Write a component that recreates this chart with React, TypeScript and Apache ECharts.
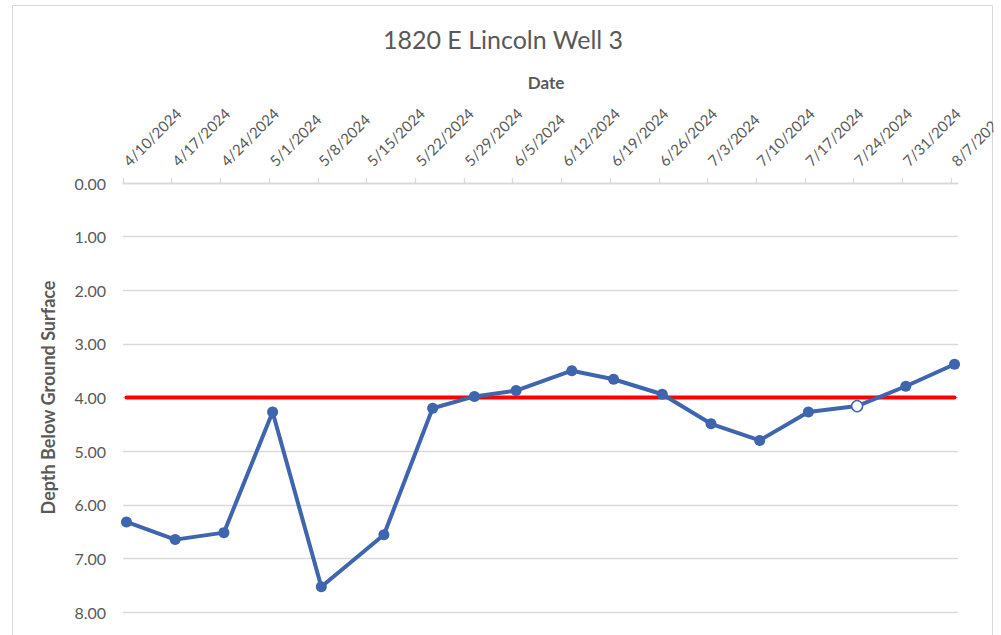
import React, { useEffect, useRef } from "react";
import * as echarts from "echarts";

const TITLE = "1820 E Lincoln Well 3";
const X_NAME = "Date";
const Y_NAME = "Depth Below Ground Surface";

const AXIS_START = "2024-04-10";
const AXIS_END = "2024-08-08";

const TICK_DATES = [
  "2024-04-10", "2024-04-17", "2024-04-24", "2024-05-01", "2024-05-08",
  "2024-05-15", "2024-05-22", "2024-05-29", "2024-06-05", "2024-06-12",
  "2024-06-19", "2024-06-26", "2024-07-03", "2024-07-10", "2024-07-17",
  "2024-07-24", "2024-07-31", "2024-08-07",
];
const TICK_LABELS = [
  "4/10/2024", "4/17/2024", "4/24/2024", "5/1/2024", "5/8/2024",
  "5/15/2024", "5/22/2024", "5/29/2024", "6/5/2024", "6/12/2024",
  "6/19/2024", "6/26/2024", "7/3/2024", "7/10/2024", "7/17/2024",
  "7/24/2024", "7/31/2024", "8/7/2024",
];

const SAMPLE_DATES = [
  "2024-04-10", "2024-04-17", "2024-04-24", "2024-05-01", "2024-05-08",
  "2024-05-17", "2024-05-24", "2024-05-30", "2024-06-05", "2024-06-13",
  "2024-06-19", "2024-06-26", "2024-07-03", "2024-07-10", "2024-07-17",
  "2024-07-24", "2024-07-31", "2024-08-07",
];
const DEPTHS = [
  6.32, 6.65, 6.52, 4.27, 7.53, 6.56, 4.2, 3.98, 3.87, 3.5,
  3.66, 3.94, 4.49, 4.8, 4.27, 4.16, 3.79, 3.38,
];
const HOLLOW_DATES = ["2024-07-24"];

const THRESHOLD_DATES = ["2024-04-10", "2024-08-07"];
const THRESHOLD_VALUES = [4.0, 4.0];

const Y_MIN = 0;
const Y_MAX = 8;
const Y_INTERVAL = 1;

const DAY = 86400000;
const t0 = Date.parse(AXIS_START + "T00:00:00Z");
const dayOffset = (d: string) => (Date.parse(d + "T00:00:00Z") - t0) / DAY;
const slotCenter = (d: string) => dayOffset(d) + 0.5;

const BLUE = "#3F65AE";
const GREY_TEXT = "#595959";
const FONT = "Lato";

export default function App() {
  const ref = useRef<HTMLDivElement>(null);
  useEffect(() => {
    if (!ref.current) return;
    const chart = echarts.init(ref.current, null, { renderer: "svg" });
    const tickValues = TICK_DATES.map(dayOffset);
    const labelMap: Record<string, string> = {};
    tickValues.forEach((v, i) => (labelMap[String(v)] = TICK_LABELS[i]));

    const mainData = SAMPLE_DATES.map((d, i) => {
      const hollow = HOLLOW_DATES.includes(d);
      return {
        value: [slotCenter(d), DEPTHS[i]],
        itemStyle: hollow
          ? { color: "#ffffff", borderColor: BLUE, borderWidth: 1.5 }
          : { color: BLUE, borderColor: BLUE, borderWidth: 0 },
      };
    });

    chart.setOption({
      animation: false,
      backgroundColor: "#ffffff",
      title: {
        text: TITLE,
        left: 503,
        top: 26,
        padding: 0,
        textAlign: "center",
        textStyle: { fontFamily: FONT, fontSize: 25, fontWeight: "normal", color: GREY_TEXT },
      },
      grid: { left: 123, right: 43, top: 183, bottom: 23, containLabel: false, outerBoundsMode: "none" },
      xAxis: {
        type: "value",
        position: "top",
        min: 0,
        max: dayOffset(AXIS_END),
        name: X_NAME,
        nameLocation: "middle",
        nameGap: 92,
        nameMoveOverlap: false,
        nameTextStyle: { fontFamily: FONT, fontSize: 17, fontWeight: "bold", color: GREY_TEXT, padding: [0, 0, 0, 11] },
        axisLine: { show: true, lineStyle: { color: "#d9d9d9", width: 1.3 } },
        axisTick: { show: true, length: 5, customValues: tickValues, lineStyle: { color: "#d9d9d9", width: 1.3 } },
        axisLabel: {
          customValues: tickValues,
          rotate: 45,
          margin: 17,
          fontFamily: FONT,
          fontSize: 15,
          color: GREY_TEXT,
          padding: [0, 0, 0, 4],
          formatter: (v: number) => labelMap[String(v)] ?? "",
        },
        splitLine: { show: false },
      },
      yAxis: {
        type: "value",
        inverse: true,
        min: Y_MIN,
        max: Y_MAX,
        interval: Y_INTERVAL,
        name: Y_NAME,
        nameLocation: "middle",
        nameRotate: 90,
        nameGap: 66,
        nameMoveOverlap: false,
        nameTextStyle: { fontFamily: FONT, fontSize: 18, fontWeight: "bold", color: GREY_TEXT },
        axisLine: { show: false },
        axisTick: { show: false },
        axisLabel: {
          margin: 17,
          fontFamily: FONT,
          fontSize: 16,
          color: GREY_TEXT,
          formatter: (v: number) => v.toFixed(2),
        },
        splitLine: { show: true, lineStyle: { color: "#d9d9d9", width: 1.3 } },
      },
      series: [
        {
          type: "line",
          data: THRESHOLD_DATES.map((d, i) => [slotCenter(d), THRESHOLD_VALUES[i]]),
          symbol: "none",
          lineStyle: { color: "#ff0000", width: 4, cap: "round" },
          z: 2,
        },
        {
          type: "line",
          data: mainData,
          symbol: "circle",
          symbolSize: 11,
          lineStyle: { color: BLUE, width: 4 },
          itemStyle: { color: BLUE },
          z: 3,
        },
      ],
      graphic: [
        {
          type: "rect",
          shape: { x: 12.5, y: 5.5, width: 980, height: 700 },
          style: { fill: "none", stroke: "#d9d9d9", lineWidth: 1 },
          z: 0,
          silent: true,
        },
        {
          type: "rect",
          shape: { x: 993.5, y: 0, width: 10, height: 635 },
          style: { fill: "#ffffff" },
          z: 100,
          silent: true,
        },
      ],
    });
    return () => chart.dispose();
  }, []);
  return (
    <div
      ref={ref}
      style={{ position: "absolute", left: 0, top: 0, width: 1001, height: 635 }}
    />
  );
}
